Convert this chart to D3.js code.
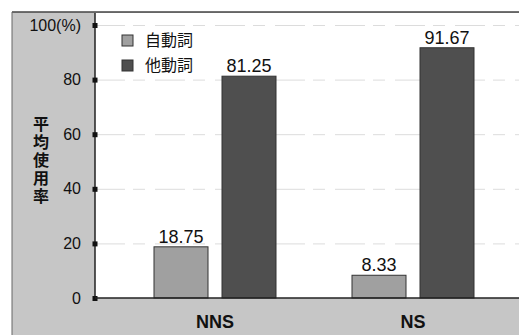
<!DOCTYPE html>
<html>
<head>
<meta charset="utf-8">
<script src="https://cdn.jsdelivr.net/npm/d3@7"></script>
<style>
  html, body { margin: 0; padding: 0; background: #fff; }
  svg { display: block; }
  text { font-family: "Liberation Sans", Arial, sans-serif; fill: #111; }
  .cjk { font-family: "Noto Sans CJK JP", "Noto Sans CJK SC", sans-serif; }
</style>
</head>
<body>
<svg id="chart" width="519" height="335"></svg>
<script>
// Average usage rate (%) of intransitive vs transitive verbs, by speaker group
const categories = ["NNS", "NS"];
const seriesNames = ["自動詞", "他動詞"];
const intransitive = [18.75, 8.33];
const transitive = [81.25, 91.67];
const yTicks = [0, 20, 40, 60, 80, 100];
const yTickLabels = ["0", "20", "40", "60", "80", "100(%)"];
const yTitle = "平均使用率";

const seriesValues = [intransitive, transitive];
const colors = ["#a0a0a0", "#4f4f4f"];

const W = 519, H = 335;
const frame = { left: 12, top: 12 };
const plot = { left: 95, right: 519, top: 13, bottom: 298 };

const svg = d3.select("#chart");

// gray outer panel and white plotting area
svg.append("rect").attr("x", frame.left).attr("y", frame.top)
  .attr("width", W - frame.left).attr("height", H - frame.top)
  .attr("fill", "#c6c6c6");
svg.append("rect").attr("x", plot.left).attr("y", plot.top)
  .attr("width", plot.right - plot.left).attr("height", plot.bottom - plot.top)
  .attr("fill", "#ffffff");
svg.append("line").attr("x1", frame.left).attr("x2", W)
  .attr("y1", frame.top).attr("y2", frame.top)
  .attr("stroke", "#444").attr("stroke-width", 1.5);
svg.append("line").attr("x1", frame.left).attr("x2", frame.left)
  .attr("y1", frame.top).attr("y2", H)
  .attr("stroke", "#666").attr("stroke-width", 1);

const y = d3.scaleLinear().domain([0, 100]).range([298, 25]);
const x0 = d3.scaleBand().domain(categories).range([116, 512]);
const x1 = d3.scaleBand().domain(seriesNames).range([38, 160])
  .paddingInner(14 / 68).paddingOuter(0);

// faint dashed gridlines
svg.append("g").attr("transform", `translate(${plot.left},0)`)
  .call(d3.axisRight(y).tickValues(yTicks.filter(t => t > 0))
    .tickSize(plot.right - plot.left).tickFormat(""))
  .call(g => g.select(".domain").remove())
  .call(g => g.selectAll(".tick line")
    .attr("stroke", "#dcdcdc").attr("stroke-dasharray", "30,8,12,10"));

// y axis with labels and square tick markers
const yAxis = svg.append("g").attr("transform", `translate(${plot.left},0)`)
  .call(d3.axisLeft(y).tickValues(yTicks).tickSize(0).tickPadding(14)
    .tickFormat((d, i) => yTickLabels[i]));
yAxis.select(".domain").attr("stroke", "#222").attr("stroke-width", 1.5)
  .attr("d", `M0,${plot.top}V${plot.bottom}`);
yAxis.selectAll(".tick text").attr("font-size", 16)
  .attr("font-family", "'Liberation Sans', Arial, sans-serif").attr("fill", "#111");
yAxis.selectAll(".tick").append("rect")
  .attr("x", -2.5).attr("y", -2.5).attr("width", 5).attr("height", 5)
  .attr("fill", "#111");

// bars
const groups = svg.append("g").selectAll("g").data(categories).join("g")
  .attr("transform", d => `translate(${x0(d)},0)`);
groups.selectAll("rect")
  .data((c, ci) => seriesNames.map((s, si) => ({ s, si, v: seriesValues[si][ci] })))
  .join("rect")
  .attr("x", d => x1(d.s))
  .attr("y", d => y(d.v))
  .attr("width", x1.bandwidth())
  .attr("height", d => y(0) - y(d.v))
  .attr("fill", d => colors[d.si])
  .attr("stroke", "#333").attr("stroke-width", 1);

// value labels
groups.selectAll("text.val")
  .data((c, ci) => seriesNames.map((s, si) => ({ s, si, v: seriesValues[si][ci] })))
  .join("text").attr("class", "val")
  .attr("x", d => x1(d.s) + x1.bandwidth() / 2)
  .attr("y", d => y(d.v) - 4)
  .attr("text-anchor", "middle").attr("font-size", 18)
  .text(d => d.v.toFixed(2));

// x axis line and category labels
svg.append("line").attr("x1", plot.left).attr("x2", plot.right)
  .attr("y1", y(0)).attr("y2", y(0)).attr("stroke", "#222").attr("stroke-width", 1.5);
svg.append("g").selectAll("text").data(categories).join("text")
  .attr("x", d => x0(d) + x0.bandwidth() / 2)
  .attr("y", 328).attr("text-anchor", "middle")
  .attr("font-size", 18).attr("font-weight", "bold")
  .text(d => d);

// vertical y-axis title
svg.append("text").attr("class", "cjk")
  .attr("x", 41).attr("y", 116)
  .style("writing-mode", "vertical-rl")
  .style("text-orientation", "upright")
  .attr("letter-spacing", 2)
  .attr("font-size", 16).attr("font-weight", "bold")
  .text(yTitle);

// legend
const legend = svg.append("g").selectAll("g").data(seriesNames).join("g")
  .attr("transform", (d, i) => `translate(122,${35 + i * 25})`);
legend.append("rect").attr("width", 11).attr("height", 11)
  .attr("fill", (d, i) => colors[i]).attr("stroke", "#333").attr("stroke-width", 1);
legend.append("text").attr("class", "cjk")
  .attr("x", 23).attr("y", 11).attr("font-size", 16).attr("fill", "#222")
  .text(d => d);
</script>
</body>
</html>
